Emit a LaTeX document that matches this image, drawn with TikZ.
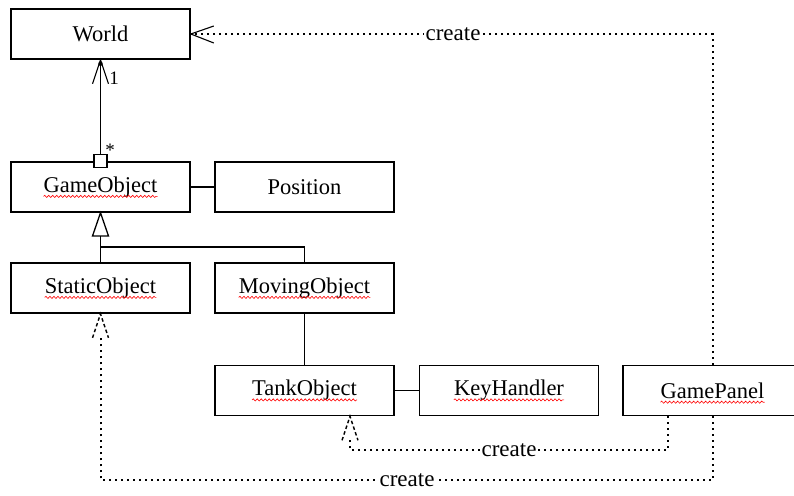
\documentclass[tikz,border=0pt]{standalone}
\usepackage{fontspec}
\setmainfont{Liberation Serif}
\usetikzlibrary{calc,decorations.pathmorphing}

\tikzset{
  classbox/.style={draw, line width=1.6pt, minimum width=179pt, minimum height=50pt, inner sep=0pt},
  classname/.style={inner sep=0pt, font=\fontsize{22.5}{22.5}\selectfont},
  squiggle/.style={draw=red, line width=0.6pt, decorate,
    decoration={snake, amplitude=1.1pt, segment length=4pt}},
  link/.style={line width=1.3pt},
  dep/.style={line width=2pt, dash pattern=on 2pt off 4pt},
  dephead/.style={line width=1.4pt, dash pattern=on 3.5pt off 2.5pt},
  deplabel/.style={fill=white, inner sep=1.5pt, font=\fontsize{23}{23}\selectfont},
  multlabel/.style={inner sep=0pt, font=\fontsize{19}{19}\selectfont},
}

\begin{document}
\begin{tikzpicture}[x=1pt, y=-1pt]
\useasboundingbox (0,0) rectangle (794,495);
\clip (0,0) rectangle (794,495);
\fill[white] (0,0) rectangle (794,495);

% class boxes
\node[classbox] (world) at (100.5,34)  {};
\node[classbox] (go)    at (100.5,187) {};
\node[classbox] (pos)   at (304.5,187) {};
\node[classbox] (so)    at (100.5,288) {};
\node[classbox] (mo)    at (304.5,288) {};
\node[classbox] (to)    at (304.5,390.5) {};
\node[classbox] (kh)    at (509,390.5) {};
\node[classbox] (gp)    at (712.5,390.5) {};

% class names
\node[classname] (worldt) at (world) {World};
\node[classname] (got)    at (go)    {GameObject};
\node[classname] (post)   at (pos)   {Position};
\node[classname] (sot)    at (so)    {StaticObject};
\node[classname] (mot)    at (mo)    {MovingObject};
\node[classname] (tot)    at (to)    {TankObject};
\node[classname] (kht)    at (kh)    {KeyHandler};
\node[classname] (gpt)    at (gp)    {GamePanel};

% spell-check underlines
\foreach \t in {got,sot,mot,tot,kht,gpt}
  \draw[squiggle] ($(\t.base west)+(0,4)$) -- ($(\t.base east)+(0,4)$);

% aggregation World 1 -- * GameObject
\node[draw, line width=1.3pt, fill=white, minimum size=13pt, inner sep=0pt] (agg) at (100.5,161) {};
\draw[link] (agg.north) -- (world.south);
\draw[line width=1.1pt] ($(world.south)+(-8,24)$) -- (world.south) -- ($(world.south)+(8,24)$);
\fill ($(world.south)+(0,4)$) circle (2.2pt);
\node[multlabel] (one)  at (114,78) {1};
\node[multlabel] (star) at (110,150) {*};

% plain associations
\draw[link] (go.east) -- (pos.west);
\draw[link] (mo.south) -- (to.north);
\draw[link] (to.east) -- (kh.west);

% generalization
\coordinate (gbase) at (100.5,236);
\coordinate (gjoin) at (100.5,247);
\draw[link, fill=white] (go.south) -- ($(gbase)+(-8,0)$) -- ($(gbase)+(8,0)$) -- cycle;
\draw[link] (gbase) -- (gjoin) -- (so.north);
\draw[link] (gjoin) -| (mo.north);

% dependency GamePanel -> World
\draw[dep] (gp.north) |- (world.east);
\draw[line width=1.1pt] ($(world.east)+(23,-8)$) -- (world.east) -- ($(world.east)+(23,9)$);
\node[deplabel] (c1) at (453,34) {create};

% dependency GamePanel -> TankObject
\coordinate (gp2) at ($(gp.south)+(-44.5,0)$);
\coordinate (to2) at ($(to.south)+(45.5,0)$);
\draw[dep] (gp2) -- ++(0,34) -| ($(to2)+(0,24)$);
\draw[dephead] ($(to2)+(-8,24)$) -- (to2) -- ($(to2)+(8,24)$);
\node[deplabel] (c2) at (509,450) {create};

% dependency GamePanel -> StaticObject
\draw[dep] (gp.south) -- ++(0,64) -| ($(so.south)+(0,24)$);
\draw[dephead] ($(so.south)+(-8,24)$) -- (so.south) -- ($(so.south)+(8,24)$);
\node[deplabel] (c3) at (407,480) {create};
\end{tikzpicture}
\end{document}
